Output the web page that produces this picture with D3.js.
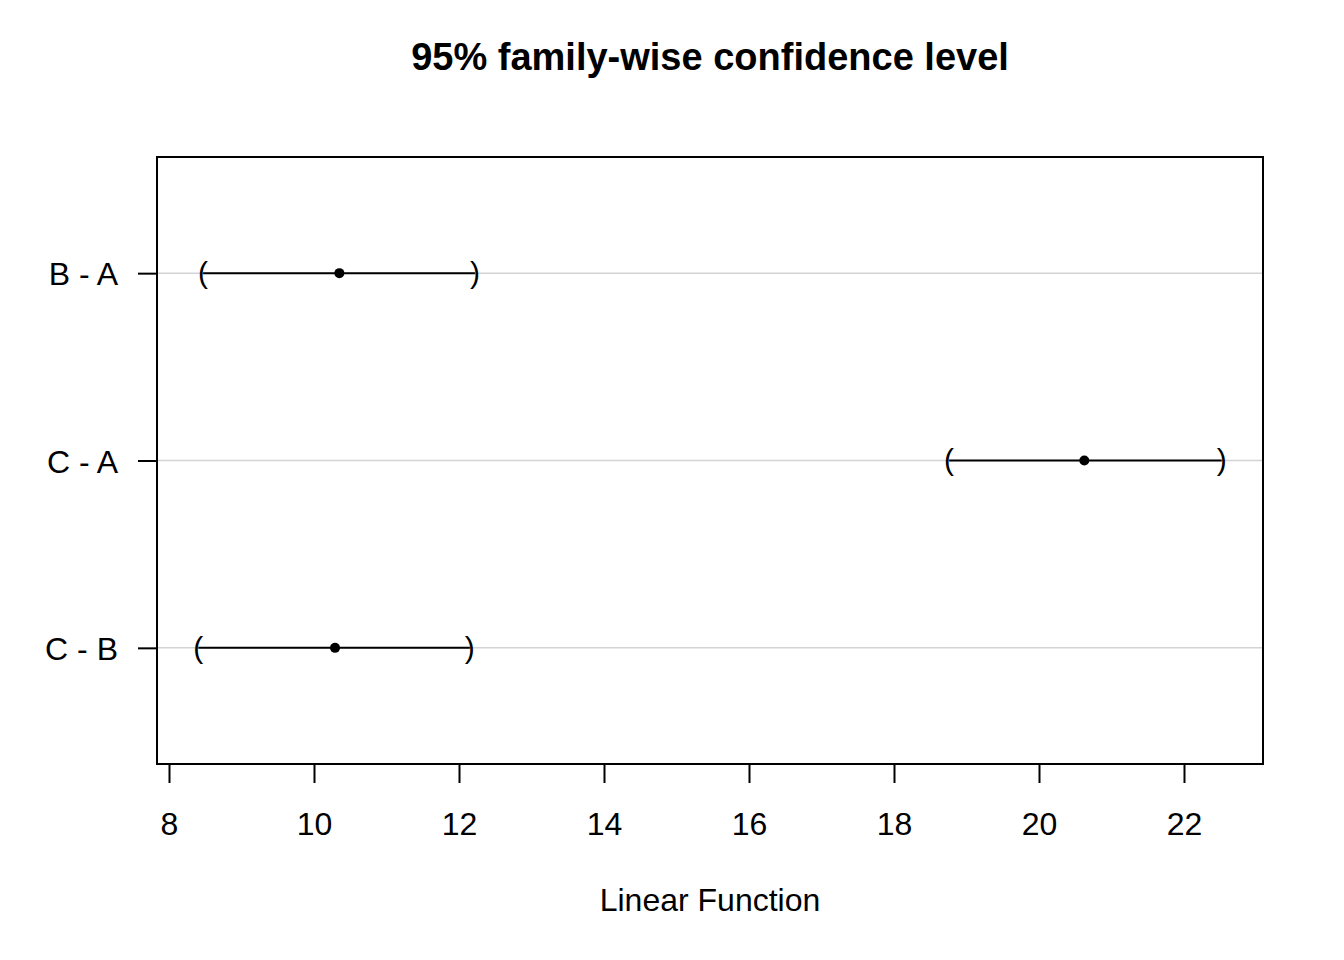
<!DOCTYPE html>
<html><head><meta charset="utf-8">
<script src="https://cdn.jsdelivr.net/npm/d3@7"></script>
<style>body{margin:0;background:#fff}svg{display:block}text{font-family:"Liberation Sans",Arial,sans-serif}</style>
</head><body>
<script>
const comparisons = ["B - A", "C - A", "C - B"];
const diffs = [10.35, 20.625, 10.29];
const lowers = [8.47, 18.76, 8.405];
const uppers = [12.22, 22.52, 12.15];
const xTicks = [8, 10, 12, 14, 16, 18, 20, 22];
const title = "95% family-wise confidence level";
const xLabel = "Linear Function";

const W = 1344, H = 960;
const L = 157, R = 1263, T = 157, B = 764;
const FS = 32;
const svg = d3.select("body").append("svg").attr("width", W).attr("height", H);

const x = d3.scaleLinear().domain([7.8345, 23.0897]).range([L, R]);
const y = d3.scaleLinear().domain([0.38, 3.62]).range([B, T]);
const yPos = i => y(comparisons.length - i);

// grid lines
svg.append("g").selectAll("line").data(comparisons).join("line")
  .attr("x1", L).attr("x2", R)
  .attr("y1", (d, i) => yPos(i)).attr("y2", (d, i) => yPos(i))
  .attr("stroke", "#d3d3d3").attr("stroke-width", 1.5);

// x axis
const xAxis = svg.append("g").attr("transform", `translate(0,${B})`)
  .call(d3.axisBottom(x).tickValues(xTicks).tickSize(19).tickSizeOuter(0).tickPadding(29));
xAxis.select(".domain").remove();
xAxis.selectAll(".tick line").attr("stroke", "#000").attr("stroke-width", 2);
xAxis.selectAll(".tick text").attr("font-size", FS).attr("fill", "#000").attr("font-family", '"Liberation Sans",Arial,sans-serif');

// y axis
const yAxis = svg.append("g").attr("transform", `translate(${L},0)`)
  .call(d3.axisLeft(d3.scalePoint().domain(comparisons).range([yPos(0), yPos(2)]))
    .tickSize(19).tickSizeOuter(0).tickPadding(20));
yAxis.select(".domain").remove();
yAxis.selectAll(".tick line").attr("stroke", "#000").attr("stroke-width", 2);
yAxis.selectAll(".tick text").attr("font-size", FS).attr("fill", "#000").attr("dy", "0.36em").attr("font-family", '"Liberation Sans",Arial,sans-serif');

// segments
const data = comparisons.map((c, i) => ({c, i, d: diffs[i], lo: lowers[i], hi: uppers[i]}));
svg.append("g").selectAll("line").data(data).join("line")
  .attr("x1", d => x(d.lo)).attr("x2", d => x(d.hi))
  .attr("y1", d => yPos(d.i)).attr("y2", d => yPos(d.i))
  .attr("stroke", "#000").attr("stroke-width", 2);
svg.append("g").selectAll("circle").data(data).join("circle")
  .attr("cx", d => x(d.d)).attr("cy", d => yPos(d.i)).attr("r", 5).attr("fill", "#000");
svg.append("g").selectAll("text").data(data).join("text")
  .attr("x", d => x(d.lo)).attr("y", d => yPos(d.i)).attr("dy", "0.33em")
  .attr("text-anchor", "middle").attr("font-size", 30).text("(");
svg.append("g").selectAll("text").data(data).join("text")
  .attr("x", d => x(d.hi)).attr("y", d => yPos(d.i)).attr("dy", "0.33em")
  .attr("text-anchor", "middle").attr("font-size", 30).text(")");

// box
svg.append("rect").attr("x", L).attr("y", T).attr("width", R - L).attr("height", B - T)
  .attr("fill", "none").attr("stroke", "#000").attr("stroke-width", 2);

svg.append("text").attr("x", (L + R) / 2).attr("y", 70).attr("text-anchor", "middle")
  .attr("font-size", 38).attr("font-weight", "bold").text(title);
svg.append("text").attr("x", (L + R) / 2).attr("y", 911).attr("text-anchor", "middle")
  .attr("font-size", FS).text(xLabel);
</script>
</body></html>
